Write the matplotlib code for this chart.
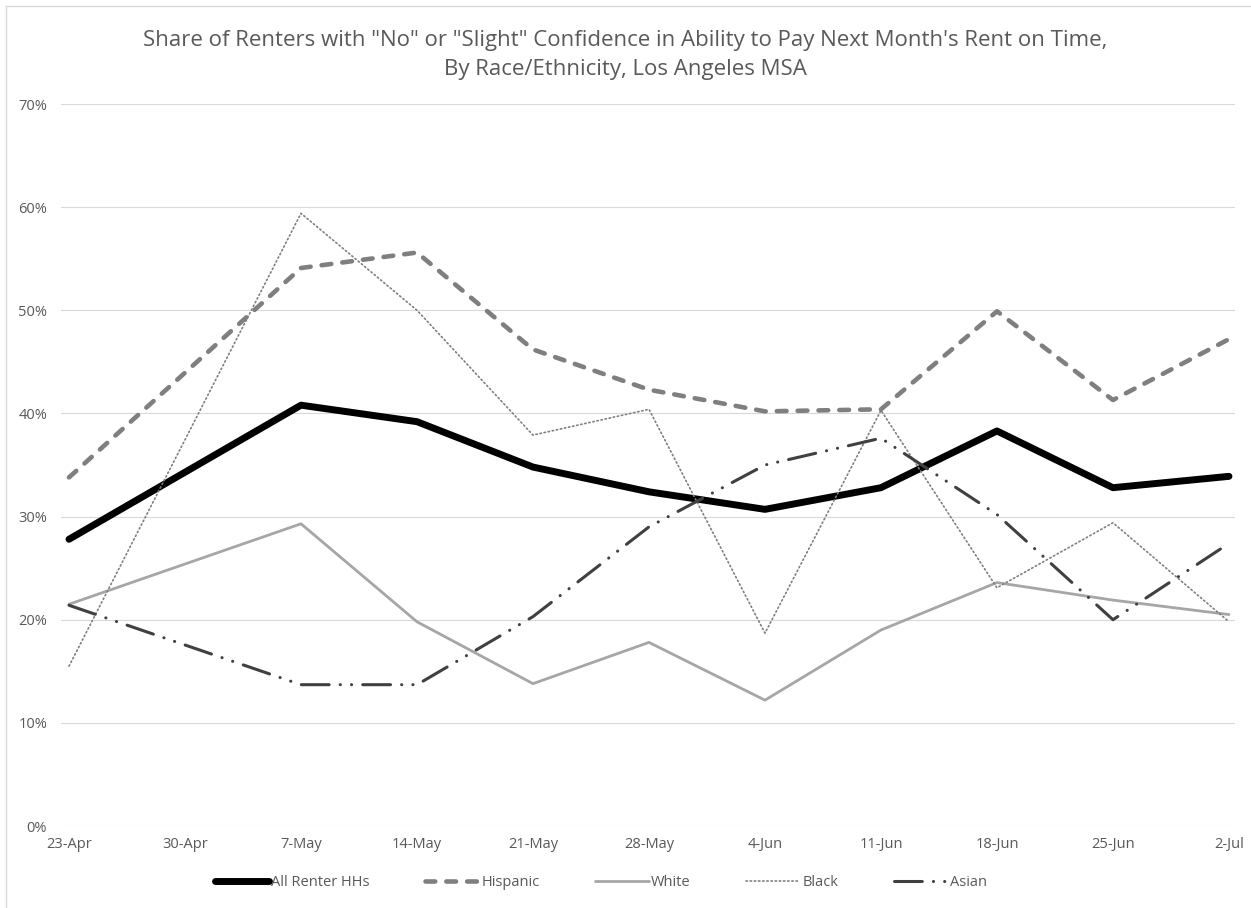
import matplotlib
matplotlib.use("Agg")
import matplotlib.pyplot as plt
from matplotlib.lines import Line2D
from matplotlib.ticker import FuncFormatter, MultipleLocator
import numpy as np

plt.rcParams["font.family"] = ["Open Sans", "DejaVu Sans"]
plt.rcParams["lines.scale_dashes"] = False

# Survey weeks (no survey was fielded the week of 30-Apr)
weeks = ["23-Apr", "30-Apr", "7-May", "14-May", "21-May", "28-May",
         "4-Jun", "11-Jun", "18-Jun", "25-Jun", "2-Jul"]

# Share of renters (%) with "no" or "slight" confidence
all_renters = [27.8, None, 40.8, 39.2, 34.8, 32.4, 30.7, 32.8, 38.3, 32.8, 33.9]
hispanic    = [33.8, None, 54.1, 55.6, 46.2, 42.3, 40.2, 40.4, 49.9, 41.3, 47.2]
white       = [21.5, None, 29.3, 19.8, 13.8, 17.8, 12.2, 19.0, 23.6, 21.9, 20.5]
black       = [15.5, None, 59.4, 50.0, 37.9, 40.4, 18.7, 40.3, 23.1, 29.4, 19.8]
asian       = [21.4, None, 13.7, 13.7, 20.3, 29.0, 35.0, 37.6, 30.2, 20.0, 27.4]

series = [
    ("All Renter HHs", all_renters, dict(color="#000000", lw=5.0, solid_capstyle="round",
                                          solid_joinstyle="round")),
    ("Hispanic", hispanic, dict(color="#7f7f7f", lw=3.3, dashes=(7, 8),
                                 dash_capstyle="round", dash_joinstyle="round")),
    ("White", white, dict(color="#a6a6a6", lw=2.0, solid_capstyle="round",
                           solid_joinstyle="round")),
    ("Black", black, dict(color="#7f7f7f", lw=1.2, dashes=(1.0, 2.0),
                           dash_capstyle="round")),
    ("Asian", asian, dict(color="#404040", lw=2.2, dashes=(20, 8, 0.1, 8, 0.1, 8),
                           dash_capstyle="round", dash_joinstyle="round")),
]

fig = plt.figure(figsize=(12.51, 9.08), dpi=100)
ax = fig.add_axes([61 / 1251, 1 - 826 / 908, (1235 - 61) / 1251, (826 - 104) / 908])

x_all = np.arange(len(weeks))
handles = []
for name, vals, style in series:
    xs = [x for x, v in zip(x_all, vals) if v is not None]
    ys = [v for v in vals if v is not None]
    line, = ax.plot(xs, ys, label=name, **style)
    handles.append(line)

ax.set_ylim(0, 70)
ax.set_xlim(-0.069, 10.052)
ax.yaxis.set_major_locator(MultipleLocator(10))
ax.yaxis.set_major_formatter(FuncFormatter(lambda v, p: f"{v:.0f}%"))
ax.set_xticks(x_all)
ax.set_xticklabels(weeks)
ax.grid(axis="y", color="#d9d9d9", lw=0.8)
ax.set_axisbelow(True)
for s in ax.spines.values():
    s.set_visible(False)
ax.tick_params(axis="both", length=0, labelsize=10.5, labelcolor="#595959")
ax.tick_params(axis="y", pad=10)
ax.tick_params(axis="x", pad=8)

fig.text(0.5, 1 - 55 / 908,
         "Share of Renters with \"No\" or \"Slight\" Confidence in Ability to Pay Next Month's Rent on Time,\n"
         "By Race/Ethnicity, Los Angeles MSA",
         ha="center", va="center", fontsize=16, color="#595959", linespacing=1.5)

leg = fig.legend(handles=handles, loc="center", bbox_to_anchor=(601 / 1251, 1 - 883 / 908),
                 ncol=5, frameon=False, fontsize=10.5, handlelength=3.7,
                 handletextpad=0.15, columnspacing=3.8)
for t in leg.get_texts():
    t.set_color("#595959")

# Chart-area frame
fig.add_artist(Line2D([6 / 1251, 6 / 1251], [0, 1 - 6 / 908], color="#d9d9d9", lw=1.0,
                      transform=fig.transFigure))
fig.add_artist(Line2D([6 / 1251, 1], [1 - 6 / 908, 1 - 6 / 908], color="#d9d9d9", lw=1.0,
                      transform=fig.transFigure))

fig.savefig("out.png", dpi=100, facecolor="white")
